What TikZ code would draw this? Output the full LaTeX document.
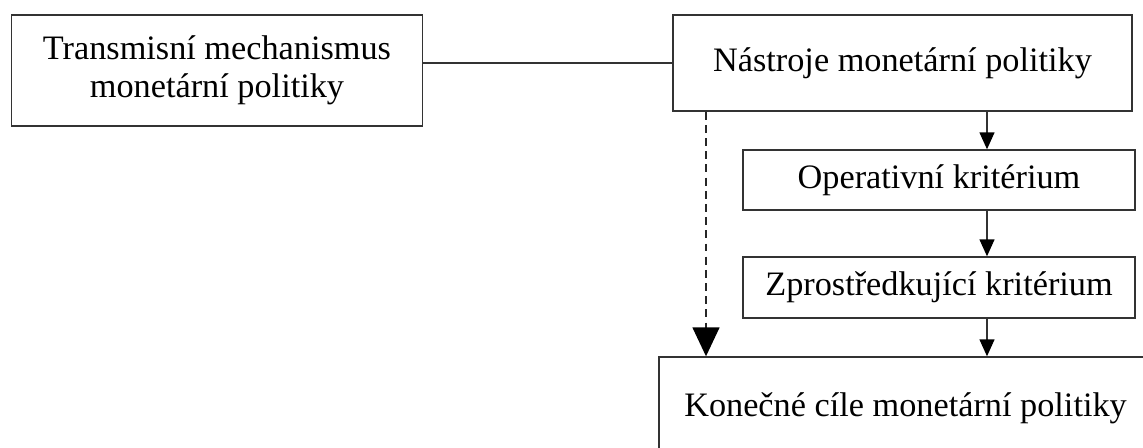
\documentclass[tikz,border=0pt]{standalone}
\usepackage{fontspec}
\setmainfont{Liberation Serif}
\usetikzlibrary{arrows.meta}

\tikzset{
  box/.style={draw=black!80, line width=0.8pt, inner sep=0pt, align=center,
              font=\fontsize{19.5}{21.5}\selectfont},
  flow/.style={draw=black!80, line width=0.8pt, -{Triangle[width=0.3cm,length=0.34cm,black]}},
  dflow/.style={draw=black!85, line width=0.9pt, dash pattern=on 4.5pt off 3pt,
                -{Triangle[width=0.54cm,length=0.58cm,black]}}
}

\begin{document}
\begin{tikzpicture}
                \clip (0,0) rectangle (22.86,8.94);

                % boxes
                \node[box, minimum width=8.22cm, minimum height=2.22cm] (trans) at (4.34,7.53)
                    {Transmisní mechanismus\\monetární politiky};
                \node[box, minimum width=9.18cm, minimum height=1.92cm] (nastroje) at (18.05,7.68)
                    {Nástroje monetární politiky};
                \node[box, minimum width=7.84cm, minimum height=1.2cm] (oper) at (18.78,5.34)
                    {Operativní kritérium};
                \node[box, minimum width=7.84cm, minimum height=1.22cm] (zprost) at (18.78,3.19)
                    {Zprostředkující kritérium};
                \node[box, minimum width=9.86cm, minimum height=2.04cm] (cile) at (18.11,0.78)
                    {Konečné cíle monetární politiky};

                % connectors
                \coordinate (d) at (14.12,0);
                \coordinate (s) at (19.74,0);
                \draw[draw=black!80, line width=0.8pt] (nastroje.west) -- (nastroje.west -| trans.east);
                \draw[flow] (nastroje.south -| s) -- (oper.north -| s);
                \draw[flow] (oper.south -| s) -- (zprost.north -| s);
                \draw[flow] (zprost.south -| s) -- (cile.north -| s);
                \draw[dflow] (nastroje.south -| d) -- (cile.north -| d);
\end{tikzpicture}
\end{document}
